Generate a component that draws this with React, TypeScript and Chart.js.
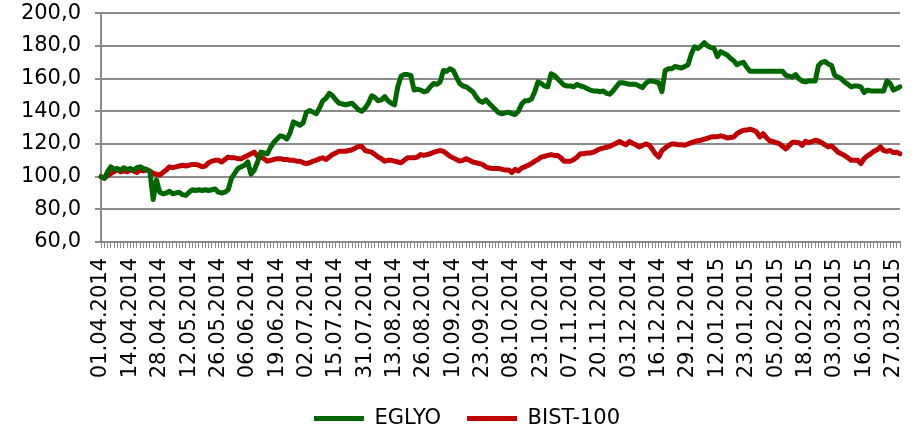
import React, { useEffect, useRef } from 'react';
import { Chart, registerables } from 'chart.js';

Chart.register(...registerables);

const tickLabels = [
  '01.04.2014', '14.04.2014', '28.04.2014', '12.05.2014', '26.05.2014', '06.06.2014', '19.06.2014',
  '02.07.2014', '15.07.2014', '31.07.2014', '13.08.2014', '26.08.2014', '10.09.2014', '23.09.2014',
  '08.10.2014', '23.10.2014', '07.11.2014', '20.11.2014', '03.12.2014', '16.12.2014', '29.12.2014',
  '12.01.2015', '23.01.2015', '05.02.2015', '18.02.2015', '03.03.2015', '16.03.2015', '27.03.2015',
];
const labelEvery = 9;

const eglyo = [
  100, 99, 103, 106, 104.5, 105, 104, 105.5, 104.5, 105,
  104, 105.5, 106, 105, 104.5, 103, 86, 98, 90.5, 89.5,
  90, 91, 89.5, 90, 90.5, 89, 88.5, 90.5, 92, 91.5,
  92, 91.5, 92, 91.5, 92, 92.5, 90.5, 90, 90.5, 92,
  99, 102, 105, 106, 107, 109, 101.5, 104, 109, 115,
  114.5, 114, 118, 121, 123, 125, 124.5, 123, 127, 133.5,
  132.5, 131.5, 133, 139.5, 140.5, 139.5, 138.5, 142, 146.5, 148,
  151, 149.5, 147, 145, 144.5, 144, 144.5, 145, 143, 141,
  140, 142, 145, 149.5, 148.5, 146.5, 147, 149, 146.5, 145,
  144, 155, 161.5, 162.5, 162.5, 162, 153, 153.5, 153, 152,
  152.5, 155, 157, 156.5, 158, 165, 164.5, 166, 165, 161,
  157, 155.5, 155, 153.5, 152, 149, 146.5, 145.5, 147, 145,
  143, 141, 139, 138.5, 139, 139.5, 138.5, 138, 140, 144.5,
  146.5, 146.5, 147.5, 152, 158, 157, 155.5, 155, 163, 162,
  160, 158, 156, 155.5, 155.5, 155, 156.5, 155.5, 155, 154,
  153, 152.5, 152.5, 152, 152.5, 151, 150.5, 152.5, 155, 157.5,
  157.5, 157, 156.5, 156.5, 156.5, 155.5, 154.5, 157, 158.5, 158.5,
  158, 157.5, 152, 165, 166, 166, 167.5, 167, 166.5, 167.5,
  168.5, 175, 179.5, 178.5, 180, 182, 180, 179, 178.5, 173.5,
  176.5, 175.5, 174.5, 172.5, 171, 168.5, 169.5, 170, 167, 164.5,
  164.5, 164.5, 164.5, 164.5, 164.5, 164.5, 164.5, 164.5, 164.5, 164.5,
  162, 161.5, 161, 162.5, 160, 158.5, 158, 158.5, 158.5, 158.5,
  168, 170, 170.5, 169, 168, 162, 161, 160, 158, 156.5,
  155, 155.5, 155.5, 155, 151.5, 153, 152.5, 152.5, 152.5, 152.5,
  152.5, 158.5, 157, 153, 154, 155,
];

const bist100 = [
  100, 99, 100.5, 102, 103, 104.5, 103, 103.5, 103, 104,
  103.5, 102.5, 104, 103.5, 104, 103.5, 102, 101.5, 101, 102.5,
  104, 106, 105.5, 106, 106.5, 107, 106.5, 107, 107.5, 107.5,
  107, 106, 106.5, 108.5, 109.5, 110, 110, 109, 110.5, 112,
  111.5, 111.5, 111, 111, 112, 113, 114, 115, 112.5, 112,
  111, 109.5, 110, 110.5, 111, 111, 110.5, 110.5, 110, 110,
  109.5, 109.5, 108.5, 108, 108.5, 109.5, 110, 111, 111.5, 110.5,
  112, 113.5, 114.5, 115.5, 115.5, 115.5, 116, 116.5, 117.5, 118.5,
  118.5, 116, 115.5, 115, 113.5, 112, 111, 109.5, 110, 110,
  109.5, 109, 108.5, 110, 111.5, 111.5, 111.5, 112, 113.5, 113,
  113.5, 114, 115, 115.5, 116, 115.5, 114, 112.5, 111.5, 110.5,
  109.5, 110, 111, 110, 109, 108.5, 108, 107.5, 106, 105.3,
  105, 105, 105, 104.5, 104, 104, 102.5, 104.5, 103.5, 105.3,
  106, 107, 108, 109.5, 110.5, 112, 112.5, 113, 113.5, 113,
  113, 111.5, 109.5, 109.5, 109.5, 110.5, 112, 114, 114, 114.5,
  114.5, 115, 116, 117, 117.5, 118, 118.5, 119.5, 120.5, 121.5,
  120.5, 119.5, 121.5, 120.5, 119.5, 118.2, 119, 120, 119.5, 117,
  114, 112, 116, 117.5, 119, 120, 120, 119.5, 119.5, 119.2,
  120, 120.8, 121.5, 122, 122.3, 123, 123.5, 124.3, 124.5, 124.5,
  125, 124.5, 123.7, 124, 124.3, 126.3, 127.5, 128.4, 128.5, 129,
  128.5, 127.4, 124.3, 126.3, 124, 122, 121.5, 120.8, 120.2, 118.5,
  117, 119, 121, 121, 120.8, 119.2, 121.6, 120.8, 121.5, 122.3,
  121.8, 120.8, 119.5, 118.2, 118.8, 117, 115, 114, 113, 111.5,
  110, 110, 110, 108, 111, 112.7, 114, 115.5, 116.5, 118.2,
  116, 115.5, 116, 114.7, 115, 114,
];

const categories = eglyo.map((_, i) => (i % labelEvery === 0 ? tickLabels[i / labelEvery] ?? '' : ''));

const FONT = { family: '"DejaVu Sans", Verdana, sans-serif', size: 21 };
const GRID = '#8a8a8a';

const legendShift = {
  id: 'legendShift',
  afterLayout(chart: any) {
    const l = chart.legend;
    if (l) {
      l.left += 7;
      l.right += 7;
    }
  },
};

export default function App() {
  const ref = useRef<HTMLCanvasElement | null>(null);

  useEffect(() => {
    if (!ref.current) return;
    const chart = new Chart(ref.current, {
      type: 'line',
      data: {
        labels: categories,
        datasets: [
          {
            label: 'EGLYO',
            data: eglyo,
            borderColor: '#006600',
            backgroundColor: '#006600',
            borderWidth: 5,
            pointRadius: 0,
            tension: 0,
            borderJoinStyle: 'round',
            borderCapStyle: 'round',
          },
          {
            label: 'BIST-100',
            data: bist100,
            borderColor: '#C00000',
            backgroundColor: '#C00000',
            borderWidth: 5,
            pointRadius: 0,
            tension: 0,
            borderJoinStyle: 'round',
            borderCapStyle: 'round',
          },
        ],
      },
      plugins: [legendShift],
      options: {
        animation: false,
        responsive: false,
        maintainAspectRatio: false,
        events: [],
        layout: { padding: { left: 20, right: 18, top: 13.3, bottom: -4 } },
        plugins: {
          tooltip: { enabled: false },
          legend: {
            position: 'bottom',
            labels: {
              boxWidth: 50,
              boxHeight: 5,
              padding: 26,
              color: '#000',
              font: FONT,
              generateLabels: (c: any) =>
                (Chart.defaults.plugins.legend.labels.generateLabels as any)(c).map((l: any) => ({
                  ...l,
                  lineWidth: 0,
                })),
            },
          },
        },
        scales: {
          x: {
            offset: false,
            grid: { drawOnChartArea: false, drawTicks: true, tickLength: 6, color: GRID, lineWidth: 1 },
            border: { color: GRID, width: 2 },
            ticks: {
              autoSkip: false,
              maxRotation: 90,
              minRotation: 90,
              padding: 10,
              color: '#000',
              font: FONT,
              callback: (_v: any, i: number) => categories[i],
            },
            afterFit: (s: any) => {
              s.height = 140;
              s.paddingLeft = 0;
              s.paddingRight = 0;
            },
          },
          y: {
            min: 60,
            max: 200,
            grid: { color: GRID, lineWidth: 2, tickLength: 6 },
            border: { color: GRID, width: 2 },
            ticks: {
              stepSize: 20,
              padding: 14,
              color: '#000',
              font: FONT,
              callback: (v: any) => Number(v).toFixed(1).replace('.', ','),
            },
            afterFit: (s: any) => {
              s.width = 81;
              s.paddingTop = 0;
              s.paddingBottom = 0;
            },
          },
        },
      },
    });
    return () => chart.destroy();
  }, []);

  return (
    <div style={{ position: 'absolute', left: 0, top: 0, width: 918, height: 435, background: '#fff' }}>
      <canvas ref={ref} width={918} height={435} style={{ width: 918, height: 435, display: 'block' }} />
    </div>
  );
}
